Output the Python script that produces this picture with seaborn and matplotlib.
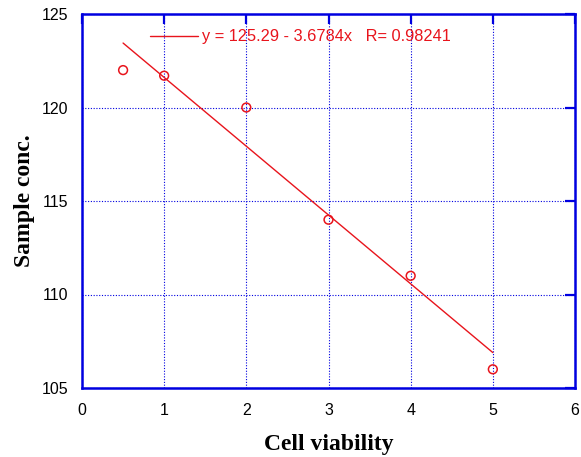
import matplotlib
matplotlib.use("Agg")
import matplotlib.pyplot as plt
import seaborn as sns
import pandas as pd
from matplotlib.lines import Line2D

cell_viability = [0.5, 1, 2, 3, 4, 5]
sample_conc = [122.0, 121.7, 120.0, 114.0, 111.0, 106.0]
fit_label = "y = 125.29 - 3.6784x   R= 0.98241"
x_ticks = [0, 1, 2, 3, 4, 5, 6]
y_ticks = [105, 110, 115, 120, 125]

df = pd.DataFrame({"x": cell_viability, "y": sample_conc})

sns.set_style("white")
plt.rcParams['font.family'] = ['Liberation Sans', 'DejaVu Sans']
plt.rcParams['text.color'] = 'black'
plt.rcParams['axes.labelcolor'] = 'black'

fig = plt.figure(figsize=(5.81, 4.57), dpi=100)
ax = fig.add_axes([82/581, 1-388/457, (575-82)/581, (388-14)/457])

red = '#e8141c'
blue = '#0000e0'

sns.regplot(data=df, x="x", y="y", ci=None, truncate=True, ax=ax,
            scatter=False, line_kws=dict(color=red, lw=1.0))
sns.scatterplot(data=df, x="x", y="y", ax=ax, marker='o', s=40,
                facecolor='none', edgecolor=red, linewidth=1.1, zorder=5)

ax.set_xlim(0, 6)
ax.set_ylim(105, 125)
ax.set_xticks(x_ticks)
ax.set_yticks(y_ticks)
ax.set_xticklabels([str(t) for t in x_ticks])
ax.set_yticklabels([str(t) for t in y_ticks])

ax.grid(True, color=blue, linestyle=(0, (1, 1.5)), linewidth=0.8)
for s in ax.spines.values():
    s.set_color(blue)
    s.set_linewidth(1.8)
ax.tick_params(axis='both', direction='in', length=7, width=1.6, color=blue,
               top=True, right=True, labelsize=11.5, labelcolor='black')
ax.tick_params(axis='x', pad=11)
ax.tick_params(axis='y', pad=10)

ax.set_xlabel("Cell viability", family=['Liberation Serif'], fontweight='bold',
              fontsize=17, labelpad=11, color='black')
ax.set_ylabel("Sample conc.", family=['Liberation Serif'], fontweight='bold',
              fontsize=17, labelpad=5, color='black')

handle = Line2D([], [], color=red, lw=1.0)
leg = ax.legend([handle], [fit_label], loc='center left',
                bbox_to_anchor=((150-82)/493, 1-(37-14)/374),
                frameon=False, borderpad=0, borderaxespad=0,
                handlelength=2.9, handletextpad=0.3, fontsize=11.8)
for t in leg.get_texts():
    t.set_color(red)

fig.savefig("out.png", dpi=100)
